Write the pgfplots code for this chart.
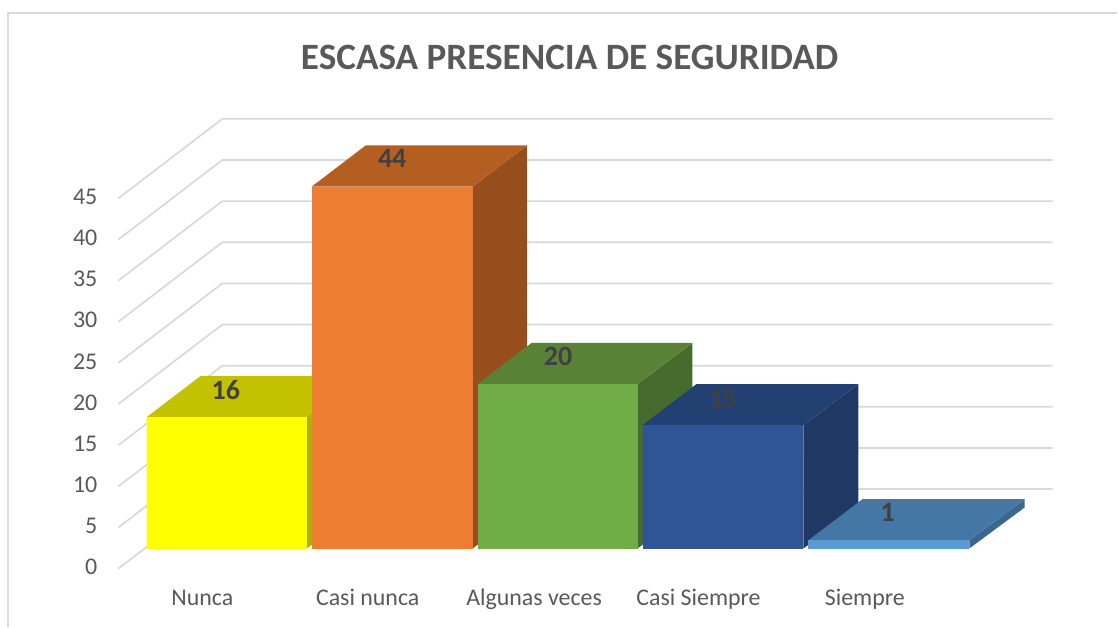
\documentclass[border=0pt]{standalone}
\usepackage{pgfplots}
\pgfplotsset{compat=1.18}
\usepackage{fontspec}
\setmainfont{Carlito}
\definecolor{gridc}{HTML}{D9D9D9}
\definecolor{ticktxt}{HTML}{595959}
\definecolor{ylF}{HTML}{FFFF00}\definecolor{ylT}{HTML}{C4C200}\definecolor{ylS}{HTML}{AFAF00}
\definecolor{orF}{HTML}{ED7D31}\definecolor{orT}{HTML}{B55E22}\definecolor{orS}{HTML}{964F1C}
\definecolor{grF}{HTML}{70AD47}\definecolor{grT}{HTML}{5A8237}\definecolor{grS}{HTML}{476B2D}
\definecolor{naF}{HTML}{2F5597}\definecolor{naT}{HTML}{234072}\definecolor{naS}{HTML}{1F3864}
\definecolor{blF}{HTML}{5B9BD5}\definecolor{blT}{HTML}{4577A5}\definecolor{blS}{HTML}{3A668F}
% grid line: from the front of the left wall to the back, then along the back wall
\newcommand{\gl}[2]{\addplot[draw=gridc,line width=1.7pt,no markers] coordinates {(118.5,#1)(222.5,#2)(1053.5,#2)};}
\begin{document}
\begin{tikzpicture}
\begin{axis}[
  scale only axis, width=1118pt, height=627pt,
  xmin=0, xmax=1118, ymin=-9.475, ymax=66.68,
  axis line style={draw=none}, tick style={draw=none},
  clip=false,
  ytick={-2.27,2.73,7.73,12.73,17.73,22.74,27.75,32.75,37.75,42.75},
  yticklabels={0,5,10,15,20,25,30,35,40,45},
  yticklabel style={anchor=east, xshift=101pt, font=\fontsize{24}{24}\selectfont, text=ticktxt},
  xtick={202.5,368,534.5,699,865.5},
  xticklabels={Nunca,Casi nunca,Algunas veces,Casi Siempre,Siempre},
  xticklabel style={anchor=center, yshift=26pt, font=\fontsize{23.9}{24}\selectfont\strut, text=ticktxt},
]
% frame
\draw[gridc,line width=1.7pt] (axis cs:1118,65.1) -- (axis cs:8,65.1) -- (axis cs:8,-9.475);
% grid
\gl{-2.43}{7.23}\gl{2.57}{12.23}\gl{7.57}{17.23}\gl{12.57}{22.23}\gl{17.57}{27.23}
\gl{22.57}{32.23}\gl{27.57}{37.23}\gl{32.57}{42.23}\gl{37.57}{47.23}\gl{42.57}{52.23}
% Nunca = 16
\addplot[fill=ylS,draw=none] coordinates {(307,0)(361,5)(361,21)(307,16)} --cycle;
\addplot[fill=ylT,draw=none] coordinates {(147,16)(307,16)(361,21)(201,21)} --cycle;
\addplot[fill=ylF,draw=none] coordinates {(147,0)(307,0)(307,16)(147,16)} --cycle;
% Casi nunca = 44
\addplot[fill=orS,draw=none] coordinates {(473,0)(527.5,5)(527.5,49)(473,44)} --cycle;
\addplot[fill=orT,draw=none] coordinates {(312,44)(473,44)(527.5,49)(366,49)} --cycle;
\addplot[fill=orF,draw=none] coordinates {(312,0)(473,0)(473,44)(312,44)} --cycle;
% Algunas veces = 20
\addplot[fill=grS,draw=none] coordinates {(638,0)(693,5)(693,25)(638,20)} --cycle;
\addplot[fill=grT,draw=none] coordinates {(478,20)(638,20)(693,25)(532,25)} --cycle;
\addplot[fill=grF,draw=none] coordinates {(478,0)(638,0)(638,20)(478,20)} --cycle;
% Casi Siempre = 15
\addplot[fill=naS,draw=none] coordinates {(804,0)(859,5)(859,20)(804,15)} --cycle;
\addplot[fill=naT,draw=none] coordinates {(643,15)(804,15)(859,20)(697,20)} --cycle;
\addplot[fill=naF,draw=none] coordinates {(643,0)(804,0)(804,15)(643,15)} --cycle;
% Siempre = 1
\addplot[fill=blS,draw=none] coordinates {(970,0)(1025.5,5)(1025.5,6)(970,1)} --cycle;
\addplot[fill=blT,draw=none] coordinates {(809,1)(970,1)(1025.5,6)(863,6)} --cycle;
\addplot[fill=blF,draw=none] coordinates {(809,0)(970,0)(970,1)(809,1)} --cycle;
% value labels
\addplot[only marks, mark=none, point meta=explicit symbolic,
  nodes near coords,
  nodes near coords style={anchor=center, font=\fontsize{28}{28}\selectfont\bfseries, text=black!75}]
  coordinates {(226,19.3)[16] (392.5,47.4)[44] (558.5,23.3)[20] (723.5,18.3)[15] (888.5,4.4)[1]};
% title
\node[font=\fontsize{37.2}{37}\selectfont\bfseries, text=ticktxt, anchor=center]
  at (axis cs:570,59.7) {ESCASA PRESENCIA DE SEGURIDAD};
\end{axis}
\end{tikzpicture}
\end{document}
